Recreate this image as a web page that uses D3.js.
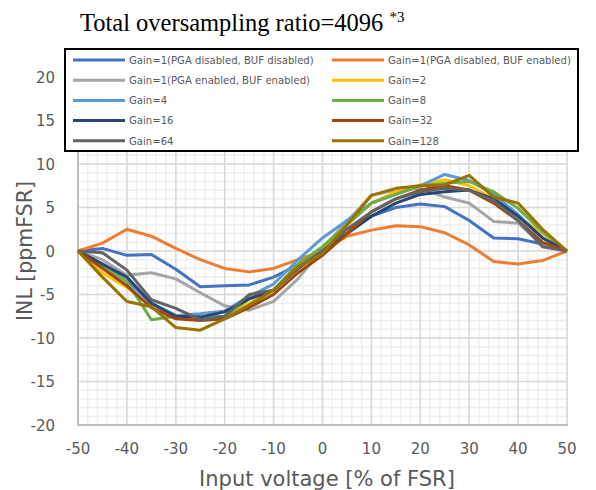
<!DOCTYPE html>
<html><head><meta charset="utf-8">
<script src="https://cdn.jsdelivr.net/npm/d3@7"></script>
<style>body{margin:0;background:#fff}svg{display:block}</style>
</head><body>
<script>
const xValues = [-50,-45,-40,-35,-30,-25,-20,-15,-10,-5,0,5,10,15,20,25,30,35,40,45,50];
const seriesNames = [
  "Gain=1(PGA disabled, BUF disabled)","Gain=1(PGA disabled, BUF enabled)",
  "Gain=1(PGA enabled, BUF enabled)","Gain=2","Gain=4","Gain=8",
  "Gain=16","Gain=32","Gain=64","Gain=128"];
const seriesColors = ["#4472C4","#ED7D31","#A5A5A5","#FFC000","#5B9BD5","#70AD47","#264478","#9E480E","#636363","#997300"];
const s1  = [0,0.3,-0.5,-0.4,-2.1,-4.1,-4.0,-3.9,-3.0,-1.6,0.1,2.0,4.0,5.0,5.4,5.1,3.5,1.5,1.4,0.8,0];
const s2  = [0,0.9,2.5,1.7,0.3,-1.0,-2.0,-2.4,-2.0,-1.0,0.0,1.7,2.4,2.9,2.8,2.1,0.7,-1.2,-1.5,-1.1,0];
const s3  = [0,-1.0,-2.8,-2.5,-3.2,-4.8,-6.3,-6.8,-5.8,-3.2,0.3,3.4,6.4,7.0,7.2,6.2,5.5,3.4,3.2,0.7,0];
const s4  = [0,-2.5,-4.2,-6.3,-7.7,-7.8,-7.5,-6.0,-4.5,-2.0,0.0,3.0,5.5,6.8,7.6,8.2,7.5,6.0,4.0,2.0,0];
const s5  = [0,-1.5,-3.5,-6.0,-7.4,-7.2,-6.9,-5.2,-3.8,-1.0,1.5,3.5,5.5,6.5,7.5,8.8,8.1,6.5,4.2,1.5,0];
const s6  = [0,-1.8,-3.5,-7.9,-7.5,-7.6,-7.5,-5.5,-4.5,-1.5,0.5,3.0,5.5,6.5,7.5,7.8,8.0,6.8,4.9,2.2,0];
const s7  = [0,-1.5,-3.0,-6.0,-7.5,-7.6,-7.0,-5.5,-4.5,-2.0,0.0,2.0,4.0,5.5,6.5,6.8,7.0,6.0,4.0,1.5,0];
const s8  = [0,-2.0,-4.0,-6.5,-7.8,-8.0,-7.8,-6.5,-5.0,-2.5,-0.5,2.0,4.5,6.0,7.0,7.5,7.0,5.5,3.5,1.0,0];
const s9  = [0,-0.2,-2.2,-5.6,-6.6,-7.9,-7.5,-5.0,-4.5,-2.0,0.0,2.5,4.5,6.0,6.8,7.2,7.0,5.8,3.5,0.5,0];
const s10 = [0,-3.0,-5.8,-6.4,-8.8,-9.1,-7.8,-6.2,-4.5,-1.8,-0.3,3.0,6.4,7.2,7.5,7.6,8.7,6.2,5.5,2.5,0];
const seriesValues = [s1,s2,s3,s4,s5,s6,s7,s8,s9,s10];
const yTicks = [-20,-15,-10,-5,0,5,10,15,20];
const xTicks = [-50,-40,-30,-20,-10,0,10,20,30,40,50];

const W = 596, H = 490;
const svg = d3.select("body").append("svg").attr("width", W).attr("height", H);
const x = d3.scaleLinear().domain([-50,50]).range([78,567]);
const y = d3.scaleLinear().domain([-20,20]).range([425,77]);
const font = "'DejaVu Sans', Verdana, sans-serif";
const txt = "#595959";

// minor grid
const g = svg.append("g");
g.selectAll(".mx").data(d3.range(-50,51,2)).join("line")
  .attr("x1",d=>x(d)).attr("x2",d=>x(d)).attr("y1",y(20)).attr("y2",y(-20))
  .attr("stroke","#efefef").attr("stroke-width",1.5);
g.selectAll(".my").data(d3.range(-20,21,1)).join("line")
  .attr("y1",d=>y(d)).attr("y2",d=>y(d)).attr("x1",x(-50)).attr("x2",x(50))
  .attr("stroke","#efefef").attr("stroke-width",1.5);
// major grid
g.selectAll(".Mx").data(xTicks).join("line")
  .attr("x1",d=>x(d)).attr("x2",d=>x(d)).attr("y1",y(20)).attr("y2",y(-20))
  .attr("stroke","#d9d9d9").attr("stroke-width",1.5);
g.selectAll(".My").data(yTicks).join("line")
  .attr("y1",d=>y(d)).attr("y2",d=>y(d)).attr("x1",x(-50)).attr("x2",x(50))
  .attr("stroke","#d9d9d9").attr("stroke-width",1.5);
// axis lines
g.append("line").attr("x1",x(-50)).attr("x2",x(-50)).attr("y1",y(20)).attr("y2",y(-20)+1)
  .attr("stroke","#bfbfbf").attr("stroke-width",2);
g.append("line").attr("x1",x(-50)).attr("x2",x(50)+1).attr("y1",y(-20)).attr("y2",y(-20))
  .attr("stroke","#bfbfbf").attr("stroke-width",2);

// tick labels
svg.append("g").selectAll("text").data(yTicks).join("text")
  .attr("x",55).attr("y",d=>y(d)+5.5).attr("text-anchor","end")
  .attr("font-family",font).attr("font-size",15).attr("fill",txt).text(d=>d);
svg.append("g").selectAll("text").data(xTicks).join("text")
  .attr("x",d=>x(d)).attr("y",454).attr("text-anchor","middle")
  .attr("font-family",font).attr("font-size",15).attr("fill",txt).text(d=>d);

// lines
const line = d3.line().x((d,i)=>x(xValues[i])).y(d=>y(d));
svg.append("g").selectAll("path").data(seriesValues).join("path")
  .attr("d",line).attr("fill","none").attr("stroke",(d,i)=>seriesColors[i])
  .attr("stroke-width",3).attr("stroke-linejoin","round");

// axis titles
svg.append("text").attr("x",327).attr("y",486).attr("text-anchor","middle")
  .attr("font-family",font).attr("font-size",21).attr("fill",txt).text("Input voltage [% of FSR]");
svg.append("text").attr("transform","translate(32,251) rotate(-90)").attr("text-anchor","middle")
  .attr("font-family",font).attr("font-size",20.5).attr("fill",txt).text("INL [ppmFSR]");

// title
const t = svg.append("text").attr("x",80).attr("y",31)
  .attr("font-family","'Liberation Serif','Times New Roman',serif").attr("font-size",24.5).attr("fill","#000");
t.append("tspan").text("Total oversampling ratio=4096 ");
t.append("tspan").attr("font-size",15).attr("dy",-9).text("*3");

// legend
const lg = svg.append("g");
lg.append("rect").attr("x",65).attr("y",49).attr("width",513).attr("height",102)
  .attr("fill","#fff").attr("stroke","#000").attr("stroke-width",2);
const items = lg.selectAll("g").data(seriesNames).join("g")
  .attr("transform",(d,i)=>`translate(${i%2===0?73:332},${60+Math.floor(i/2)*20.2})`);
items.append("line").attr("x1",0).attr("x2",52).attr("y1",0).attr("y2",0)
  .attr("stroke",(d,i)=>seriesColors[i]).attr("stroke-width",3);
items.append("text").attr("x",56).attr("y",3.8).attr("font-family",font)
  .attr("font-size",10.1).attr("fill",txt).text(d=>d);
</script>
</body></html>
